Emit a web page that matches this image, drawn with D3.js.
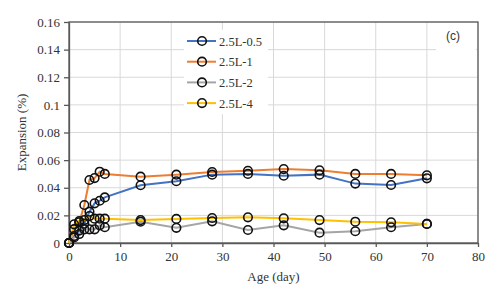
<!DOCTYPE html>
<html>
<head>
<meta charset="utf-8">
<script src="https://cdn.jsdelivr.net/npm/d3@7"></script>
<style>
  body { margin: 0; background: #fff; }
  svg { display: block; }
</style>
</head>
<body>
<svg id="chart" width="500" height="295"></svg>
<script>
  // age in days
  var ages = [0, 1, 2, 3, 4, 5, 6, 7, 14, 21, 28, 35, 42, 49, 56, 63, 70];

  // expansion (%) per series
  var names = ["2.5L-0.5", "2.5L-1", "2.5L-2", "2.5L-4"];
  var exp05 = [0, 0.005, 0.009, 0.014, 0.0227, 0.0287, 0.0306, 0.033, 0.0418, 0.0447, 0.0495, 0.050, 0.0487, 0.0495, 0.043, 0.042, 0.0468];
  var exp1  = [0, 0.010, 0.015, 0.0275, 0.0456, 0.047, 0.0516, 0.050, 0.048, 0.0495, 0.0514, 0.0523, 0.0535, 0.0526, 0.050, 0.050, 0.049];
  var exp2  = [0, 0.004, 0.0065, 0.0099, 0.0099, 0.0099, 0.0128, 0.0114, 0.0154, 0.011, 0.0157, 0.0094, 0.0128, 0.0075, 0.0085, 0.0114, 0.0138];
  var exp4  = [0, 0.0135, 0.0159, 0.0166, 0.0195, 0.0176, 0.0176, 0.0176, 0.0166, 0.0174, 0.0181, 0.0186, 0.0179, 0.0166, 0.0154, 0.015, 0.0138];
  var colors = ["#4472C4", "#ED7D31", "#A5A5A5", "#FFC000"];

  var xTicks = [0, 10, 20, 30, 40, 50, 60, 70, 80];
  var yTicks = [0, 0.02, 0.04, 0.06, 0.08, 0.1, 0.12, 0.14, 0.16];

  var series = [exp05, exp1, exp2, exp4].map(function(vals, i) {
    return { name: names[i], color: colors[i], values: vals.map(function(v, j) { return { x: ages[j], y: v }; }) };
  });

  var svg = d3.select("#chart"),
      margin = {top: 22, right: 22, bottom: 52, left: 69},
      width = 500 - margin.left - margin.right,
      height = 295 - margin.top - margin.bottom;

  var x = d3.scaleLinear().domain([0, 80]).range([0, width]),
      y = d3.scaleLinear().domain([0, 0.16]).range([height, 0]);

  var g = svg.append("g").attr("transform", "translate(" + margin.left + "," + margin.top + ")");
  var font = "'Times New Roman', 'Liberation Serif', serif";

  // grid
  g.append("g").selectAll("line").data(yTicks.slice(1)).enter().append("line")
    .attr("x1", 0).attr("x2", width)
    .attr("y1", function(d) { return y(d); }).attr("y2", function(d) { return y(d); })
    .attr("stroke", "#d9d9d9").attr("stroke-width", 1);
  g.append("g").selectAll("line").data(xTicks.slice(1)).enter().append("line")
    .attr("y1", 0).attr("y2", height)
    .attr("x1", function(d) { return x(d); }).attr("x2", function(d) { return x(d); })
    .attr("stroke", "#d9d9d9").attr("stroke-width", 1);

  // axes
  var xAxis = g.append("g").attr("transform", "translate(0," + height + ")")
    .call(d3.axisBottom(x).tickValues(xTicks).tickSize(4).tickSizeOuter(0).tickPadding(5));
  var yAxis = g.append("g")
    .call(d3.axisLeft(y).tickValues(yTicks).tickSize(5).tickSizeOuter(0).tickPadding(4)
      .tickFormat(function(d) { return d === 0 ? "0" : d3.format("")(+d.toFixed(2)); }));
  [xAxis, yAxis].forEach(function(a) {
    a.selectAll("path, line").attr("stroke", "#595959").attr("stroke-width", 1.3);
    a.selectAll("text").attr("fill", "#333").style("font-family", font).style("font-size", "13px");
  });

  // frame top/right
  g.append("rect").attr("width", width).attr("height", height)
    .attr("fill", "none").attr("stroke", "#595959").attr("stroke-width", 1.3);

  // lines + markers
  var line = d3.line().x(function(d) { return x(d.x); }).y(function(d) { return y(d.y); });
  series.forEach(function(s) {
    g.append("path").datum(s.values).attr("d", line)
      .attr("fill", "none").attr("stroke", s.color).attr("stroke-width", 2);
  });
  series.forEach(function(s) {
    g.append("g").selectAll("circle").data(s.values).enter().append("circle")
      .attr("cx", function(d) { return x(d.x); }).attr("cy", function(d) { return y(d.y); })
      .attr("r", 4.3).attr("fill", "none").attr("stroke", "#111").attr("stroke-width", 1.6);
  });

  // legend
  var lg = svg.append("g").attr("transform", "translate(184,30)");
  lg.append("rect").attr("width", 84).attr("height", 84).attr("fill", "#fff");
  series.forEach(function(s, i) {
    var yy = 11 + i * 20.7;
    lg.append("line").attr("x1", 3).attr("x2", 32).attr("y1", yy).attr("y2", yy)
      .attr("stroke", s.color).attr("stroke-width", 2);
    lg.append("circle").attr("cx", 18).attr("cy", yy).attr("r", 4.3)
      .attr("fill", "none").attr("stroke", "#111").attr("stroke-width", 1.6);
    lg.append("text").attr("x", 35).attr("y", yy + 4.5).text(s.name)
      .attr("fill", "#333").style("font-family", font).style("font-size", "12.5px");
  });

  // (c) label box
  var cl = svg.append("g").attr("transform", "translate(436,24)");
  cl.append("rect").attr("width", 40).attr("height", 27).attr("fill", "#fff");
  cl.append("text").attr("x", 17).attr("y", 16).attr("text-anchor", "middle").text("(c)")
    .attr("fill", "#333").style("font-family", "'Liberation Sans', Arial, sans-serif").style("font-size", "12px");

  // axis titles
  svg.append("text").attr("x", margin.left + width / 2).attr("y", 281).attr("text-anchor", "middle")
    .text("Age (day)").attr("fill", "#333").style("font-family", font).style("font-size", "13px");
  svg.append("text").attr("transform", "translate(26," + (margin.top + height / 2) + ") rotate(-90)")
    .attr("text-anchor", "middle").text("Expansion (%)")
    .attr("fill", "#333").style("font-family", font).style("font-size", "13px");
</script>
</body>
</html>
